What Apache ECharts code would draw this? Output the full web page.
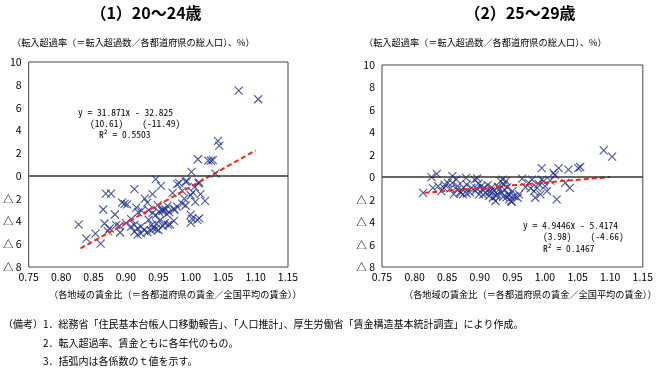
<!DOCTYPE html>
<html><head><meta charset="utf-8">
<script src="https://cdn.jsdelivr.net/npm/echarts@6/dist/echarts.min.js"></script>
<style>html,body{margin:0;padding:0;background:#fff;}#c{width:656px;height:369px;}</style>
</head><body><div id="c"></div>
<script>
// ---- data ----
const leftPoints = [
[1.074,7.48],[1.104,6.73],[1.042,3.07],[1.044,2.66],[1.011,1.46],[1.027,1.34],[1.031,1.34],[1.034,1.38],[1.001,0.35],[1.038,0.2],
[0.946,-0.29],[0.954,-0.88],[0.979,-0.73],[0.994,-0.47],[1.013,-0.58],[1.006,-0.96],[1.012,-0.65],[0.982,-0.64],[0.992,-0.5],
[0.869,-1.55],[0.877,-1.55],[0.913,-1.17],[0.972,-1.49],[0.987,-1.32],[0.929,-1.99],[0.941,-1.61],[1.015,-1.61],[1.0,-1.7],[1.003,-1.45],[1.022,-2.2],[1.007,-2.28],[0.99,-2.0],
[0.894,-2.35],[0.898,-2.45],[0.902,-2.5],[0.916,-2.78],[0.933,-2.34],[0.949,-2.57],[0.964,-2.63],[0.974,-2.87],[0.987,-2.43],[0.992,-2.6],[0.979,-2.7],[0.961,-2.95],[0.956,-3.1],
[0.865,-2.95],[0.919,-3.2],[0.924,-3.05],[0.935,-3.0],[0.941,-3.25],[0.946,-3.45],[0.951,-3.15],[0.957,-2.95],[0.963,-3.35],[0.967,-3.2],[0.975,-3.0],[1.0,-3.4],[1.002,-3.75],[1.013,-3.74],[1.0,-4.1],[0.883,-3.39],[0.908,-3.8],
[0.827,-4.27],[0.867,-4.18],[0.875,-4.62],[0.885,-4.33],[0.89,-4.4],[0.9,-4.15],[0.908,-4.45],[0.913,-4.3],[0.918,-4.6],[0.923,-4.45],[0.928,-4.75],[0.935,-3.85],[0.94,-4.3],[0.942,-4.6],[0.947,-4.2],[0.952,-3.9],[0.957,-4.4],[0.96,-4.15],[0.965,-4.3],[0.968,-4.25],[0.974,-3.95],[1.01,-3.86],
[0.839,-5.5],[0.853,-5.06],[0.861,-5.94],[0.872,-4.85],[0.891,-4.97],[0.913,-4.9],[0.923,-5.05],[0.933,-4.95],[0.939,-4.8],[0.918,-5.15],[0.95,-4.75],[0.946,-4.65]
];
const rightPoints = [
[0.813,-1.39],[0.826,0.0],[0.834,0.3],[0.828,-0.94],[0.836,-0.8],[0.841,-1.24],[0.846,-0.65],[0.851,-0.5],[0.858,0.09],[0.858,-0.5],[0.864,-0.2],[0.866,-0.8],[0.871,-1.39],[0.874,-1.53],[0.879,-0.06],[0.88,-0.65],[0.887,-0.94],[0.892,-0.21],[0.893,-1.24],[0.896,-0.1],[0.898,-0.55],
[0.899,-1.53],[0.904,-1.09],[0.909,-1.39],[0.914,-1.68],[0.917,-1.24],[0.92,-1.83],[0.924,-2.12],[0.927,-1.53],[0.93,-1.09],[0.932,-0.35],[0.935,-0.21],[0.937,-0.65],[0.94,-0.35],[0.943,-1.53],[0.945,-1.98],[0.948,-2.12],[0.95,-1.24],[0.953,-1.68],[0.958,-1.83],[0.96,-1.53],
[0.902,-0.8],[0.907,-0.95],[0.912,-0.7],[0.918,-0.9],[0.922,-1.2],[0.928,-0.85],[0.933,-1.4],[0.938,-1.1],[0.942,-0.9],[0.946,-1.6],[0.949,-2.2],[0.941,-1.8],[0.936,-1.75],[0.925,-1.65],[0.915,-1.3],[0.905,-1.55],[0.895,-1.0],[0.885,-1.35],[0.875,-0.9],[0.865,-1.1],[0.855,-1.0],[0.845,-0.95],[0.86,-1.5],[0.87,-1.3],[0.88,-1.45],
[0.965,-0.12],[0.975,-0.5],[0.98,-0.21],[0.983,-1.24],[0.985,-1.83],[0.988,-0.94],[0.993,-1.53],[0.995,-0.21],[0.998,-0.35],[0.995,0.82],[1.003,-1.24],[1.013,0.38],[1.015,0.18],[1.018,-1.98],[1.021,0.82],[1.031,-0.5],[1.036,0.68],[1.038,-0.94],[1.051,0.82],[1.054,0.91],[1.09,2.39],[1.103,1.83],[0.97,-0.9],[0.978,-1.0],[1.0,-0.8],[1.008,-0.3],[0.99,-0.6]
];
const leftTrend = [[0.83,-6.37],[1.10,2.23]];
const rightTrend = [[0.815,-1.39],[1.10,0.02]];
const titles = ['（1）20～24歳', '（2）25～29歳'];
const yAxisName = '（転入超過率（＝転入超過数／各都道府県の総人口）、%）';
const xAxisName = '（各地域の賃金比（＝各都道府県の賃金／全国平均の賃金））';
const equationsLeft = ['y = 31.871x - 32.825', '(10.61)    (-11.49)', 'R² = 0.5503'];
const equationsRight = ['y = 4.9446x - 5.4174', '(3.98)    (-4.66)', 'R² = 0.1467'];
const notes = ['（備考）', '1．総務省「住民基本台帳人口移動報告」、「人口推計」、厚生労働省「賃金構造基本統計調査」により作成。', '2．転入超過率、賃金ともに各年代のもの。', '3．括弧内は各係数のｔ値を示す。'];
const xMin = 0.75, xMax = 1.15, xStep = 0.05;
const yMin = -8, yMax = 10, yStep = 2;

// ---- chart ----
const JP = '"Noto Sans CJK JP", "Noto Sans", sans-serif';
const MONO = '"Noto Sans Mono CJK JP", "DejaVu Sans Mono", monospace';
const markerColor = '#1c2b8e';
const chart = echarts.init(document.getElementById('c'), null, {renderer: 'canvas'});

function xAx(i){
  return {gridIndex:i, type:'value', min:xMin, max:xMax, interval:xStep,
    axisLine:{show:false}, axisTick:{show:false}, splitLine:{show:false},
    axisLabel:{formatter:v=>v.toFixed(2), color:'#000', fontSize:10.5, fontFamily:JP, margin:5}};
}
function yAx(i){
  return {gridIndex:i, type:'value', min:yMin, max:yMax, interval:yStep,
    axisLine:{show:false}, axisTick:{show:false}, splitLine:{show:false},
    axisLabel:{formatter:v=> v<0 ? '△ '+(-v) : String(v), color:'#000', fontSize:10.5, fontFamily:JP, margin:7}};
}
function scatter(i, pts){
  return {type:'scatter', xAxisIndex:i, yAxisIndex:i, data:pts, symbol:'path://M0,0L10,10M10,0L0,10', symbolSize:8,
    itemStyle:{color:'transparent', borderColor:markerColor, borderWidth:1.1}, z:2, silent:true,
    markLine:{silent:true, symbol:'none', label:{show:false}, lineStyle:{color:'#333', width:1.5, type:'solid'}, data:[{yAxis:0}]}};
}
function trend(i, pts){
  return {type:'line', xAxisIndex:i, yAxisIndex:i, data:pts, symbol:'none', z:4, silent:true,
    lineStyle:{color:'#ff2211', width:2, type:[5,3]}};
}
function txt(x, y, text, size, opts){
  return {type:'text', silent:true, style:Object.assign({x:x, y:y, text:text, fill:'#000', fontSize:size, fontFamily:JP, align:'left', verticalAlign:'middle'}, opts||{})};
}

const graphics = [
  txt(146, 13, titles[0], 16, {align:'center', fontWeight:'bold'}),
  txt(520, 13, titles[1], 16, {align:'center', fontWeight:'bold'}),
  txt(12, 43, yAxisName, 9.2),
  txt(364, 43, yAxisName, 9.2),
  txt(49, 295, xAxisName, 9.2),
  txt(404, 295, xAxisName, 9.2),
  txt(78, 112, equationsLeft[0], 9.5, {fontFamily:MONO}),
  txt(90, 123, equationsLeft[1], 9.5, {fontFamily:MONO}),
  txt(99, 134, equationsLeft[2], 9.5, {fontFamily:MONO}),
  txt(523, 225, equationsRight[0], 9.5, {fontFamily:MONO}),
  txt(543, 236.5, equationsRight[1], 9.5, {fontFamily:MONO}),
  txt(543, 248, equationsRight[2], 9.5, {fontFamily:MONO}),
  txt(3, 324, notes[0], 10),
  txt(43, 324, notes[1], 10),
  txt(43, 343, notes[2], 10),
  txt(43, 361, notes[3], 10)
];

chart.setOption({
  animation:false,
  backgroundColor:'#fff',
  grid:[
    {left:27, top:62, width:261, height:205, show:true, borderColor:'#444', borderWidth:1, backgroundColor:'transparent'},
    {left:382, top:65, width:263, height:202, show:true, borderColor:'#444', borderWidth:1, backgroundColor:'transparent'}
  ],
  xAxis:[xAx(0), xAx(1)],
  yAxis:[yAx(0), yAx(1)],
  series:[scatter(0, leftPoints), trend(0, leftTrend), scatter(1, rightPoints), trend(1, rightTrend)],
  graphic:graphics
});
</script>
</body></html>
